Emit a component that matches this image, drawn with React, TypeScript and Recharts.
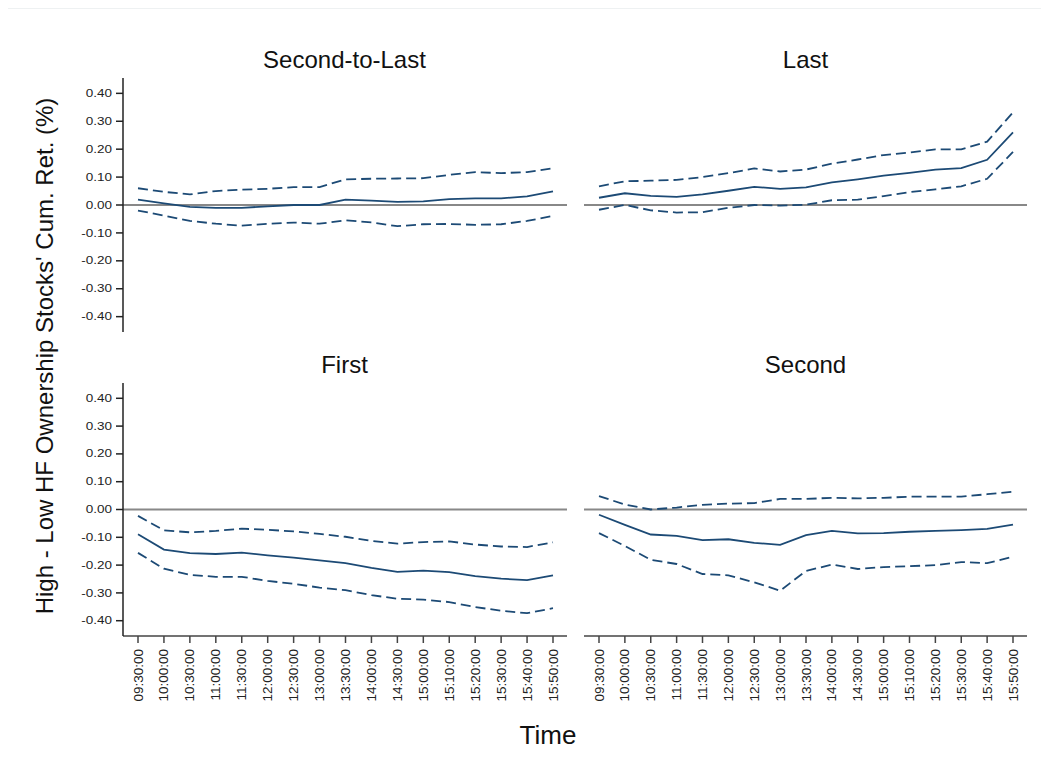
import React from "react";
import { LineChart, Line, XAxis, YAxis, ReferenceLine } from "recharts";

const times = [
  "09:30:00", "10:00:00", "10:30:00", "11:00:00", "11:30:00", "12:00:00", "12:30:00", "13:00:00", "13:30:00",
  "14:00:00", "14:30:00", "15:00:00", "15:10:00", "15:20:00", "15:30:00", "15:40:00", "15:50:00"
];
const yTicks = [-0.4, -0.3, -0.2, -0.1, 0, 0.1, 0.2, 0.3, 0.4];

const secondToLastMid = [0.019, 0.006, -0.007, -0.01, -0.01, -0.005, 0.0, 0.0, 0.019, 0.016, 0.011, 0.013, 0.021, 0.024, 0.024, 0.031, 0.049];
const secondToLastUpper = [0.06, 0.047, 0.038, 0.05, 0.055, 0.058, 0.064, 0.064, 0.092, 0.094, 0.095, 0.096, 0.108, 0.118, 0.114, 0.118, 0.132];
const secondToLastLower = [-0.02, -0.038, -0.057, -0.067, -0.074, -0.067, -0.063, -0.067, -0.055, -0.062, -0.076, -0.069, -0.068, -0.071, -0.069, -0.057, -0.039];

const lastMid = [0.026, 0.042, 0.033, 0.029, 0.038, 0.051, 0.065, 0.058, 0.063, 0.081, 0.092, 0.105, 0.115, 0.127, 0.132, 0.162, 0.26];
const lastUpper = [0.067, 0.085, 0.087, 0.09, 0.1, 0.114, 0.131, 0.12, 0.127, 0.148, 0.163, 0.179, 0.188, 0.199, 0.199, 0.227, 0.332];
const lastLower = [-0.017, 0.0, -0.019, -0.027, -0.026, -0.01, 0.0, -0.002, 0.001, 0.017, 0.019, 0.032, 0.046, 0.056, 0.067, 0.094, 0.19];

const firstMid = [-0.089, -0.144, -0.157, -0.16, -0.155, -0.165, -0.173, -0.183, -0.193, -0.21, -0.224, -0.22, -0.225, -0.24, -0.249, -0.254, -0.237];
const firstUpper = [-0.023, -0.075, -0.082, -0.077, -0.069, -0.073, -0.079, -0.088, -0.098, -0.113, -0.123, -0.117, -0.115, -0.126, -0.133, -0.135, -0.118];
const firstLower = [-0.156, -0.213, -0.235, -0.242, -0.242, -0.257, -0.267, -0.281, -0.29, -0.308, -0.321, -0.324, -0.333, -0.351, -0.364, -0.373, -0.355];

const secondMid = [-0.019, -0.055, -0.09, -0.095, -0.11, -0.107, -0.12, -0.127, -0.092, -0.077, -0.086, -0.085, -0.08, -0.077, -0.074, -0.07, -0.054];
const secondUpper = [0.048, 0.018, 0.0, 0.007, 0.017, 0.021, 0.023, 0.038, 0.038, 0.042, 0.04, 0.042, 0.046, 0.046, 0.046, 0.055, 0.064];
const secondLower = [-0.085, -0.131, -0.181, -0.196, -0.232, -0.237, -0.262, -0.292, -0.221, -0.198, -0.214, -0.207, -0.204, -0.2, -0.189, -0.193, -0.17];

const build = (mid: number[], upper: number[], lower: number[]) =>
  times.map((t, i) => ({ time: t, mid: mid[i], upper: upper[i], lower: lower[i] }));

const lineColor = "#1c4a75";
const font = "Arial, 'Liberation Sans', sans-serif";

const XTick = (props: any) => {
  const { x, y, payload } = props;
  return (
    <g transform={`translate(${x},${y})`}>
      <text x={0} y={0} dy={4.5} transform="rotate(-90)" textAnchor="end" fontSize={13.5} fill="#222" fontFamily={font}>
        {payload.value}
      </text>
    </g>
  );
};

const YTick = (props: any) => {
  const { x, y, payload } = props;
  return (
    <g transform={`translate(${x},${y}) scale(1,0.8)`}>
      <text x={0} y={0} dy={4.5} textAnchor="end" fontSize={13.5} fill="#222" fontFamily={font}>
        {Number(payload.value).toFixed(2)}
      </text>
    </g>
  );
};

function Panel({
  data,
  left,
  top,
  showY,
  showX
}: {
  data: Array<Record<string, string | number>>;
  left: number;
  top: number;
  showY: boolean;
  showX: boolean;
}) {
  const width = showY ? 521 : 463;
  const height = showX ? 331 : 266;
  return (
    <div style={{ position: "absolute", left, top }}>
      <LineChart
        width={width}
        height={height}
        data={data}
        margin={{ top: 8, right: 10, bottom: showX ? 0 : 4, left: showY ? 0 : 10 }}
      >
        <XAxis
          dataKey="time"
          hide={!showX}
          height={70}
          interval={0}
          padding={{ left: 15, right: 14 }}
          tick={<XTick />}
          tickSize={7}
          tickMargin={6}
          stroke="#444"
          strokeWidth={1.5}
        />
        <YAxis
          hide={!showY}
          width={67}
          domain={[-0.455, 0.455]}
          ticks={yTicks}
          interval={0}
          tick={<YTick />}
          tickSize={7}
          tickMargin={4}
          stroke="#222"
          strokeWidth={1.5}
        />
        <ReferenceLine y={0} stroke="#888" strokeWidth={2} />
        <Line dataKey="upper" stroke={lineColor} strokeWidth={1.8} strokeDasharray="10 5" dot={false} isAnimationActive={false} />
        <Line dataKey="mid" stroke={lineColor} strokeWidth={1.8} dot={false} isAnimationActive={false} />
        <Line dataKey="lower" stroke={lineColor} strokeWidth={1.8} strokeDasharray="10 5" dot={false} isAnimationActive={false} />
      </LineChart>
    </div>
  );
}

const titleStyle = (left: number, top: number): React.CSSProperties => ({
  position: "absolute",
  left,
  top,
  width: 443,
  textAlign: "center",
  fontSize: 24,
  lineHeight: "24px",
  fontFamily: font,
  color: "#111"
});

export default function App() {
  return (
    <div style={{ position: "relative", width: 1041, height: 764, fontFamily: font }}>
      <div style={{ position: "absolute", left: 0, top: 0, width: 1041, borderTop: "1px solid #eef1f2" }} />

      <div style={titleStyle(115, 40)}>Second-to-Last</div>
      <div style={titleStyle(576, 40)}>Last</div>
      <div style={titleStyle(115, 345)}>First</div>
      <div style={titleStyle(576, 345)}>Second</div>

      <Panel data={build(secondToLastMid, secondToLastUpper, secondToLastLower)} left={48} top={62} showY showX={false} />
      <Panel data={build(lastMid, lastUpper, lastLower)} left={566} top={62} showY={false} showX={false} />
      <Panel data={build(firstMid, firstUpper, firstLower)} left={48} top={367} showY showX />
      <Panel data={build(secondMid, secondUpper, secondLower)} left={566} top={367} showY={false} showX />

      <div
        style={{
          position: "absolute",
          left: 37,
          top: 348,
          transform: "translate(-50%, -50%) rotate(-90deg)",
          whiteSpace: "nowrap",
          fontSize: 24,
          color: "#111"
        }}
      >
        High - Low HF Ownership Stocks' Cum. Ret. (%)
      </div>
      <div
        style={{
          position: "absolute",
          left: 540,
          top: 727,
          transform: "translate(-50%, -50%)",
          fontSize: 26,
          color: "#111"
        }}
      >
        Time
      </div>
    </div>
  );
}
